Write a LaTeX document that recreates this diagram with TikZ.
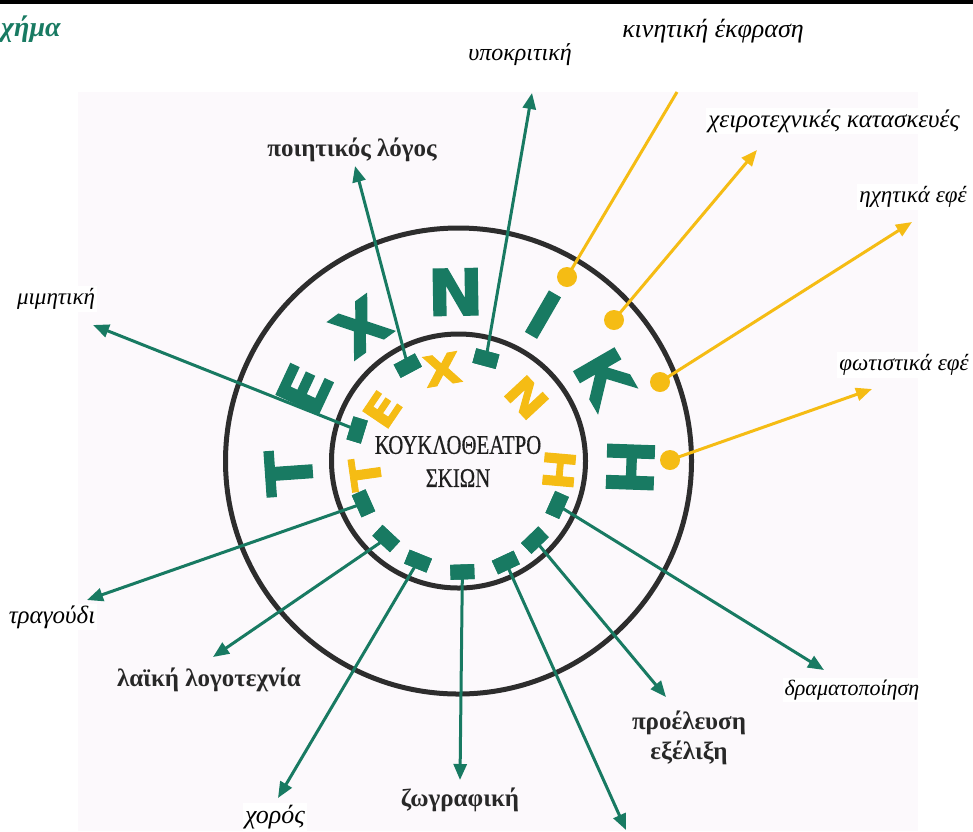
\documentclass[tikz,border=0pt]{standalone}
\usepackage{graphicx}
\usepackage{fontspec}
\setmainfont{Liberation Serif}
\newfontfamily\blockfont[FakeBold=2]{DejaVu Sans}
\newfontfamily\centfont[FakeBold=0.6]{Liberation Serif}
\usetikzlibrary{arrows.meta,calc}
\definecolor{teal1}{RGB}{24,122,98}
\definecolor{gold1}{RGB}{245,188,20}
\definecolor{ringc}{RGB}{45,45,45}
\definecolor{paper}{RGB}{252,249,252}
\definecolor{labc}{RGB}{40,40,40}
\tikzset{
  ringline/.style={draw=ringc, line width=5pt},
  tline/.style={draw=teal1, line width=3pt, -{Triangle[length=16pt,width=13pt]}},
  yline/.style={draw=gold1, line width=3pt, -{Triangle[length=16pt,width=13pt]}},
  tmark/.style={fill=teal1, minimum width=24pt, minimum height=15pt, inner sep=0pt},
  ydot/.style={circle, fill=gold1, minimum size=20pt, inner sep=0pt},
  bigT/.style={text=teal1, inner sep=0pt, font=\blockfont\bfseries\fontsize{64}{64}\selectfont},
  smallY/.style={text=gold1, inner sep=0pt, font=\blockfont\bfseries\fontsize{42}{42}\selectfont},
  itlab/.style={font=\itshape\fontsize{#1}{#1}\selectfont, fill=white, inner sep=2pt},
  bdlab/.style={font=\bfseries\fontsize{25}{30}\selectfont, text=labc, inner sep=1pt, align=center},
  ctext/.style={font=\centfont\fontsize{27}{27}\selectfont, text=black!88, inner sep=0pt},
}
\begin{document}
\begin{tikzpicture}[x=1pt,y=1pt]
\useasboundingbox (0,0) rectangle (973,-831);
% background sheet and top rule
\fill[paper] (78,-92) rectangle (918,-831);
\fill[black] (0,0) rectangle (973,-4);
\node[anchor=west, text=teal1, font=\bfseries\itshape\fontsize{28}{28}\selectfont, inner sep=0pt] (title) at (1,-29) {χήμα};

\coordinate (c) at (458.5,-461);
\draw[ringline] (c) circle (233);
\draw[ringline] (c) circle (127);

% markers on the inner circle
\path (c) ++(118:108) node[tmark, rotate=208] (m1) {};
\path (c) ++(75:106)  node[tmark, rotate=165] (m2) {};
\path (c) ++(163:106) node[tmark, rotate=253] (m3) {};
\path (c) ++(204:104) node[tmark, rotate=294] (m4) {};
\path (c) ++(227:106) node[tmark, rotate=317] (m5) {};
\path (c) ++(248:108) node[tmark, rotate=338] (m6) {};
\path (c) ++(272:111) node[tmark, rotate=2]   (m7) {};
\path (c) ++(295:112) node[tmark, rotate=25]  (m8) {};
\path (c) ++(314:110) node[tmark, rotate=44]  (m9) {};
\path (c) ++(336:108) node[tmark, rotate=66]  (m10) {};

% arrow ends
\coordinate (t1) at (355,-166);
\coordinate (t2) at (532,-93);
\coordinate (t3) at (93,-325);
\coordinate (t4) at (87,-600);
\coordinate (t5) at (213,-657);
\coordinate (t6) at (278,-798);
\coordinate (t7) at (460,-780);
\coordinate (t8) at (626,-830);
\coordinate (t9) at (666,-697);
\coordinate (t10) at (824,-670);

\draw[tline] (m1.center) -- (t1);
\draw[tline] (m2.center) -- (t2);
\draw[tline] (m3.center) -- (t3);
\draw[tline] (m4.center) -- (t4);
\draw[tline] (m5.center) -- (t5);
\draw[tline] (m6.center) -- (t6);
\draw[tline] (m7.center) -- (t7);
\draw[tline] (m8.center) -- (t8);
\draw[tline] (m9.center) -- (t9);
\draw[tline] (m10.center) -- (t10);

% redraw markers on top of the lines
\foreach \a/\r in {118/108, 75/106, 163/106, 204/104, 227/106, 248/108, 272/111, 295/112, 314/110, 336/108}
  \path (c) ++(\a:\r) node[tmark, rotate=\a+90] {};

% yellow dots and arrows
\node[ydot] (d1) at (567,-277) {};
\node[ydot] (d2) at (614,-320) {};
\node[ydot] (d3) at (660,-382) {};
\node[ydot] (d4) at (670,-460) {};
\coordinate (y1) at (677,-92);
\coordinate (y2) at (757,-150);
\coordinate (y3) at (912,-222);
\coordinate (y4) at (872,-389);
\draw[draw=gold1, line width=3pt] (d1.center) -- (y1);
\draw[yline] (d2.center) -- (y2);
\draw[yline] (d3.center) -- (y3);
\draw[yline] (d4.center) -- (y4);

% outer word
\path (c) ++(184:170) node[bigT, rotate=94]  (o1) {\scalebox{1.05}[1]{Τ}};
\path (c) ++(155:170) node[bigT, rotate=65]  (o2) {\scalebox{1.05}[1]{Ε}};
\path (c) ++(126:166) node[bigT, rotate=36]  (o3) {\scalebox{1.05}[1]{Χ}};
\path (c) ++(91:169)  node[bigT, rotate=1]   (o4) {\scalebox{1.05}[1]{Ν}};
\path (c) ++(60:169)  node[bigT, rotate=-30] (o5) {\scalebox{1.05}[1]{Ι}};
\path (c) ++(30:168)  node[bigT, rotate=-60] (o6) {\scalebox{1.05}[1]{Κ}};
\path (c) ++(-2:172)  node[bigT, rotate=-92] (o7) {\scalebox{1.05}[1]{Η}};

% inner word
\path (c) ++(188:94)  node[smallY, rotate=98]  (i1) {\scalebox{1.15}[1]{Τ}};
\path (c) ++(146:92)  node[smallY, rotate=56]  (i2) {\scalebox{1.15}[1]{Ε}};
\path (c) ++(100:93)  node[smallY, rotate=10]  (i3) {\scalebox{1.15}[1]{Χ}};
\path (c) ++(43:93)   node[smallY, rotate=-47] (i4) {\scalebox{1.15}[1]{Ν}};
\path (c) ++(-5:101)  node[smallY, rotate=-95] (i5) {\scalebox{1.15}[1]{Η}};

% centre title
\node[ctext] (k1) at (458,-445) {\scalebox{0.77}[1]{ΚΟΥΚΛΟΘΕΑΤΡΟ}};
\node[ctext] (k2) at (458,-478) {\scalebox{0.77}[1]{ΣΚΙΩΝ}};

% labels
\node[itlab=26] (l0) at (713,-31) {κινητική έκφραση};
\node[itlab=24] (l2) at (520,-55) {υποκριτική};
\node[bdlab] (l1) at (352,-150) {ποιητικός λόγος};
\node[itlab=25] (la) at (834,-121) {χειροτεχνικές κατασκευές};
\node[itlab=23] (lb) at (913,-197) {ηχητικά εφέ};
\node[itlab=23] (lc) at (904,-365) {φωτιστικά εφέ};
\node[itlab=23] (l3) at (56,-299) {μιμητική};
\node[itlab=25] (l4) at (52,-617) {τραγούδι};
\node[bdlab] (l5) at (209,-680) {λαϊκή λογοτεχνία};
\node[itlab=26] (l6) at (275,-817) {χορός};
\node[bdlab] (l7) at (460,-800) {ζωγραφική};
\node[bdlab] (l9) at (689,-738) {προέλευση\\εξέλιξη};
\node[itlab=22] (l10) at (852,-690) {δραματοποίηση};
\end{tikzpicture}
\end{document}
